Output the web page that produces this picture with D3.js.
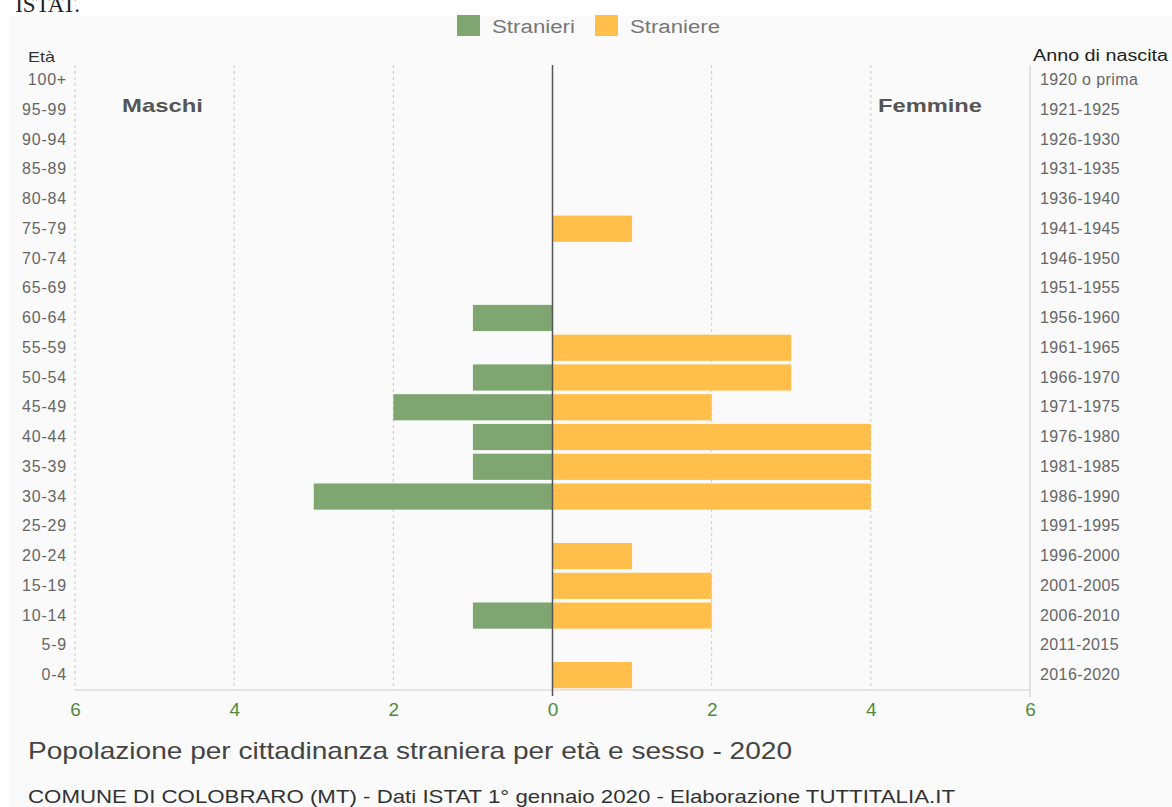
<!DOCTYPE html>
<html><head><meta charset="utf-8">
<script src="https://cdn.jsdelivr.net/npm/d3@7"></script>
<style>
body{margin:0;background:#fff;}
svg{display:block;font-family:"Liberation Sans",Arial,sans-serif;}
</style></head>
<body><svg id="c" width="1172" height="807"></svg>
<script>
const ageGroups = ["100+","95-99","90-94","85-89","80-84","75-79","70-74","65-69","60-64","55-59","50-54","45-49","40-44","35-39","30-34","25-29","20-24","15-19","10-14","5-9","0-4"];
const birthYears = ["1920 o prima","1921-1925","1926-1930","1931-1935","1936-1940","1941-1945","1946-1950","1951-1955","1956-1960","1961-1965","1966-1970","1971-1975","1976-1980","1981-1985","1986-1990","1991-1995","1996-2000","2001-2005","2006-2010","2011-2015","2016-2020"];
const maschi  = [0,0,0,0,0,0,0,0,1,0,1,2,1,1,3,0,0,0,1,0,0];
const femmine = [0,0,0,0,0,1,0,0,0,3,3,2,4,4,4,0,1,2,2,0,1];
const xTicks = [-6,-4,-2,0,2,4,6];
const seriesNames = ["Stranieri","Straniere"];
const colors = ["#7fa571","#ffbf4a"];

(function(){
const svg = d3.select("#c");
svg.append("rect").attr("x",9).attr("y",16).attr("width",1163).attr("height",791).attr("fill","#fafafa");
svg.append("text").attr("x",80).attr("y",12).attr("text-anchor","end")
  .attr("font-family","'Liberation Serif',serif").attr("font-size",23).attr("fill","#222").text("ISTAT.");

const L = 75, R = 1030, T = 65, B = 690;
const x = d3.scaleLinear().domain([-6,6]).range([L,R]);
const y = d3.scaleBand().domain(ageGroups).range([T,B]).paddingInner(0.12).paddingOuter(0.06);

svg.append("g").selectAll("line").data(xTicks.filter(d=>d!==0 && d!==6))
  .join("line").attr("x1",d=>x(d)).attr("x2",d=>x(d)).attr("y1",T).attr("y2",B)
  .attr("stroke","#c8c8c8").attr("stroke-dasharray","3,3");
svg.append("line").attr("x1",x(6)).attr("x2",x(6)).attr("y1",T).attr("y2",B+7).attr("stroke","#c8c8c8");
svg.append("line").attr("x1",L).attr("x2",R).attr("y1",B).attr("y2",B).attr("stroke","#d0d0d0");

svg.append("g").selectAll("rect").data(ageGroups.map((a,i)=>({a,v:maschi[i]})).filter(d=>d.v>0))
  .join("rect").attr("x",d=>x(-d.v)).attr("width",d=>x(0)-x(-d.v))
  .attr("y",d=>y(d.a)).attr("height",y.bandwidth()).attr("fill",colors[0]);
svg.append("g").selectAll("rect").data(ageGroups.map((a,i)=>({a,v:femmine[i]})).filter(d=>d.v>0))
  .join("rect").attr("x",x(0)).attr("width",d=>x(d.v)-x(0))
  .attr("y",d=>y(d.a)).attr("height",y.bandwidth()).attr("fill",colors[1]);

svg.append("line").attr("x1",x(0)).attr("x2",x(0)).attr("y1",T).attr("y2",B+6).attr("stroke","#555").attr("stroke-width",1.5);

const xa = svg.append("g").attr("transform",`translate(0,${B})`)
  .call(d3.axisBottom(x).tickValues(xTicks).tickFormat(d=>Math.abs(d)).tickSize(0).tickPadding(13));
xa.select(".domain").remove();
xa.selectAll("text").attr("font-size",19).attr("fill","#4f8a3e").attr("font-family","'Liberation Sans',Arial,sans-serif");

const ya = svg.append("g").attr("transform",`translate(${L-8},0)`)
  .call(d3.axisLeft(y).tickSize(0).tickPadding(0));
ya.select(".domain").remove();
ya.selectAll("text").attr("font-size",16).attr("letter-spacing",0.8).attr("fill","#666").attr("font-family","'Liberation Sans',Arial,sans-serif");
const yr = d3.scaleBand().domain(birthYears).range([T,B]).paddingInner(0.12).paddingOuter(0.06);
const yb = svg.append("g").attr("transform",`translate(${R+10},0)`)
  .call(d3.axisRight(yr).tickSize(0).tickPadding(0));
yb.select(".domain").remove();
yb.selectAll("text").attr("font-size",16).attr("letter-spacing",0.4).attr("fill","#666").attr("font-family","'Liberation Sans',Arial,sans-serif");

const SG = "spacingAndGlyphs";
svg.append("text").attr("x",28).attr("y",62).attr("font-size",15).attr("fill","#333").attr("textLength",27).attr("lengthAdjust",SG).text("Età");
svg.append("text").attr("x",1033).attr("y",61).attr("font-size",16).attr("fill","#222").attr("textLength",135).attr("lengthAdjust",SG).text("Anno di nascita");
svg.append("text").attr("x",122).attr("y",112).attr("font-size",19).attr("font-weight","bold").attr("fill","#555").attr("textLength",81).attr("lengthAdjust",SG).text("Maschi");
svg.append("text").attr("x",878).attr("y",112).attr("font-size",19).attr("font-weight","bold").attr("fill","#555").attr("textLength",104).attr("lengthAdjust",SG).text("Femmine");

const lx = [457,595];
const lw = [83,90];
seriesNames.forEach((n,i)=>{
  svg.append("rect").attr("x",lx[i]).attr("y",15).attr("width",23).attr("height",21).attr("fill",colors[i]);
  svg.append("text").attr("x",lx[i]+35).attr("y",33).attr("font-size",18).attr("fill","#777").attr("textLength",lw[i]).attr("lengthAdjust",SG).text(n);
});

svg.append("text").attr("x",28).attr("y",759).attr("font-size",24).attr("fill","#444").attr("textLength",764).attr("lengthAdjust",SG)
  .text("Popolazione per cittadinanza straniera per età e sesso - 2020");
svg.append("text").attr("x",28).attr("y",803).attr("font-size",19).attr("fill","#333").attr("textLength",927).attr("lengthAdjust",SG)
  .text("COMUNE DI COLOBRARO (MT) - Dati ISTAT 1° gennaio 2020 - Elaborazione TUTTITALIA.IT");
})();
</script></body></html>
